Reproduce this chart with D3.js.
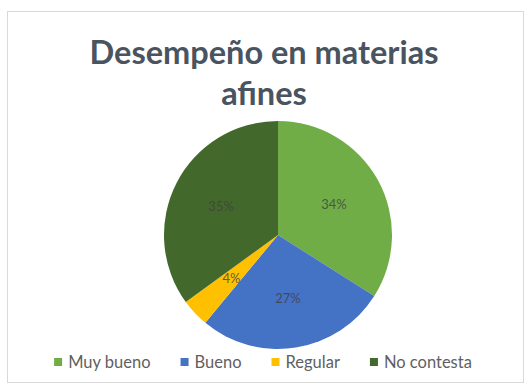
<!DOCTYPE html>
<html>
<head>
<meta charset="utf-8">
<script src="https://cdn.jsdelivr.net/npm/d3@7"></script>
<style>
  html, body { margin: 0; padding: 0; background: #ffffff; }
  svg { display: block; }
</style>
</head>
<body>
<svg id="chart" width="531" height="385"></svg>
<script>
// Pie chart data
const categories = ["Muy bueno", "Bueno", "Regular", "No contesta"];
const values = [34, 27, 4, 35];
const colors = ["#70AD47", "#4472C4", "#FFC000", "#43682B"];
const titleLines = ["Desempeño en materias", "afines"];

const width = 531, height = 385;
const svg = d3.select("#chart");

// chart frame
svg.append("rect")
  .attr("x", 7.5).attr("y", 11.5)
  .attr("width", 516).attr("height", 371)
  .attr("fill", "#ffffff")
  .attr("stroke", "#d9d9d9")
  .attr("stroke-width", 1);

// title
const title = svg.append("text")
  .attr("text-anchor", "middle")
  .attr("font-family", "Lato, 'Open Sans', sans-serif")
  .attr("font-weight", 700)
  .attr("font-size", 32.5)
  .attr("fill", "#4a5461");
title.selectAll("tspan")
  .data(titleLines)
  .join("tspan")
  .attr("x", 264)
  .attr("y", (d, i) => 64 + i * 41)
  .text(d => d);

// pie
const cx = 278, cy = 235, R = 114;
const color = d3.scaleOrdinal().domain(categories).range(colors);
const pie = d3.pie().sort(null).value(d => d.value);
const data = categories.map((c, i) => ({ name: c, value: values[i] }));
const arcs = pie(data);
const arc = d3.arc().innerRadius(0).outerRadius(R);
const labelArc = d3.arc().innerRadius(R * 0.56).outerRadius(R * 0.56);
const total = d3.sum(values);

const g = svg.append("g").attr("transform", `translate(${cx},${cy})`);
g.selectAll("path.slice")
  .data(arcs)
  .join("path")
  .attr("class", "slice")
  .attr("d", arc)
  .attr("fill", d => color(d.data.name));

g.selectAll("text.lbl")
  .data(arcs)
  .join("text")
  .attr("class", "lbl")
  .attr("transform", d => `translate(${labelArc.centroid(d)})`)
  .attr("text-anchor", "middle")
  .attr("dy", "0.35em")
  .attr("font-family", "Lato, 'Open Sans', sans-serif")
  .attr("font-size", 13)
  .attr("fill", "#404040")
  .attr("fill-opacity", 0.8)
  .text(d => Math.round(d.data.value / total * 100) + "%");

// legend
const legend = svg.append("g").attr("font-family", "Lato, 'Open Sans', sans-serif")
  .attr("font-size", 16.5).attr("fill", "#5f5f5f");
const items = legend.selectAll("g.item").data(categories).join("g").attr("class", "item");
items.append("rect").attr("width", 8).attr("height", 8).attr("y", -10)
  .attr("fill", d => color(d));
items.append("text").attr("x", 14).attr("y", 0).text(d => d);
// lay out horizontally, centered
const gap = 30;
const widths = [];
items.each(function () { widths.push(this.getBBox().width); });
const totalW = d3.sum(widths) + gap * (widths.length - 1);
let xPos = 263 - totalW / 2;
items.each(function (d, i) {
  d3.select(this).attr("transform", `translate(${xPos},${368})`);
  xPos += widths[i] + gap;
});
</script>
</body>
</html>
